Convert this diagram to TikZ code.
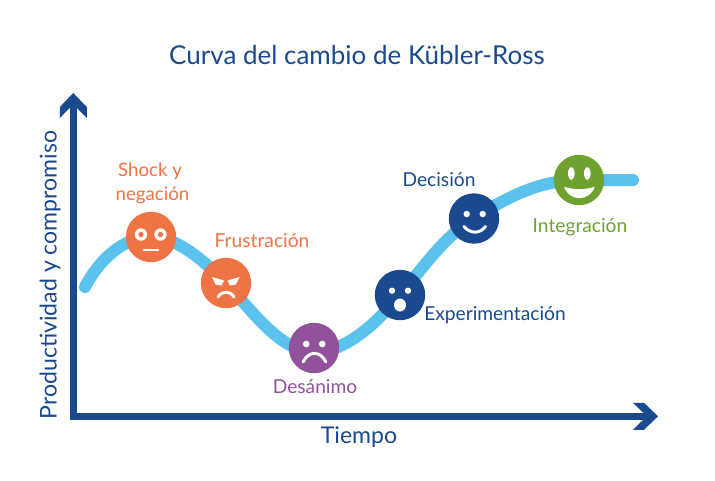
\documentclass[tikz,border=0pt]{standalone}
\usepackage{fontspec}
\setmainfont{Lato}
\usetikzlibrary{arrows.meta,backgrounds}
\definecolor{azul}{HTML}{1A4A8D}
\definecolor{celeste}{HTML}{5BC2EE}
\definecolor{naranja}{HTML}{EE7445}
\definecolor{morado}{HTML}{92529B}
\definecolor{verde}{HTML}{6FA12F}
\pgfdeclarearrow{
  name=Chevron,
  setup code={
    \pgfarrowssettipend{0pt}
    \pgfarrowssetlineend{-10pt}
    \pgfarrowssetbackend{-18.75pt}
    \pgfarrowshullpoint{0pt}{0pt}
    \pgfarrowshullpoint{-18.75pt}{10.1pt}
    \pgfarrowshullpoint{-18.75pt}{-10.1pt}
  },
  drawing code={
    \pgfpathmoveto{\pgfqpoint{0pt}{0pt}}
    \pgfpathlineto{\pgfqpoint{-10.5pt}{10.1pt}}
    \pgfpathlineto{\pgfqpoint{-18.75pt}{10.1pt}}
    \pgfpathlineto{\pgfqpoint{-11.25pt}{2.8pt}}
    \pgfpathlineto{\pgfqpoint{-11.25pt}{-2.8pt}}
    \pgfpathlineto{\pgfqpoint{-18.75pt}{-10.1pt}}
    \pgfpathlineto{\pgfqpoint{-10.5pt}{-10.1pt}}
    \pgfpathclose
    \pgfusepathqfill
  },
}
\tikzset{
  face/.style={circle,fill=#1,minimum size=37.8pt,inner sep=0pt},
  label/.style={text=#1,font=\fontsize{14.4}{17}\selectfont,inner sep=0pt},
  axis/.style={azul,line width=5.6pt,{Chevron}-{Chevron}},
  trazo/.style={white,line width=2.2pt,line cap=round},
}
\begin{document}
\begin{tikzpicture}[x=0.75pt,y=-0.75pt]
    \useasboundingbox (0,0) rectangle (715,480);
    % axes
    \coordinate (ytip) at (73.3,93);
    \coordinate (origin) at (73.3,416.3);
    \coordinate (xtip) at (658,416.3);
    \draw[axis] (ytip) -- (origin) -- (xtip);
    % faces
    \node[face=naranja] (shock) at (151,237) {};
    \node[face=naranja] (frust) at (226,283) {};
    \node[face=morado] (desan) at (314,348) {};
    \node[face=azul] (exper) at (400,295) {};
    \node[face=azul] (decis) at (474,218.5) {};
    \node[face=verde] (integ) at (579,180) {};
    % curve
    \coordinate (inicio) at (85,287);
    \coordinate (valle) at (314,352);
    \coordinate (final) at (633,180);
    \begin{scope}[on background layer]
        \draw[celeste,line width=9pt,line cap=round] (inicio)
            .. controls (100,258) and (125,237) .. (shock.center)
            .. controls (178,237) and (205,262) .. (frust.center)
            .. controls (250,308) and (280,352) .. (valle)
            .. controls (345,352) and (375,325) .. (exper.center)
            .. controls (425,265) and (445,236) .. (decis.center)
            .. controls (505,198) and (540,180) .. (integ.center)
            -- (final);
    \end{scope}
    % shock
    \fill[white] (141,234.5) circle (6.2) (160.5,234.5) circle (6.2);
    \fill[naranja] (141,234.5) circle (2.6) (160.5,234.5) circle (2.6);
    \draw[trazo] (144,250) -- (158,250);
    % frustration
    \fill[white] (212,277) -- (224,280.5) -- (221.5,285.5) -- (215.5,284.5) -- cycle;
    \fill[white] (239.5,277) -- (227.5,280.5) -- (230,285.5) -- (236,284.5) -- cycle;
    \draw[trazo] (218,297) .. controls (222,290.5) and (230,290.5) .. (234,297);
    % sad
    \fill[white] (306.3,344) circle (3.3) (322.3,344) circle (3.3);
    \draw[trazo] (303,362) .. controls (309,350.5) and (320,350.5) .. (326,362);
    % surprised
    \fill[white] (392,290.7) circle (3.2) (408,290.7) circle (3.2);
    \fill[white] (400,305) ellipse (6 and 6.5);
    % smile
    \fill[white] (466.7,214) circle (3.2) (482.7,214) circle (3.2);
    \draw[trazo] (464,226.5) .. controls (470,234) and (480,234) .. (485.5,226.5);
    % happy
    \fill[white] (571.3,173.5) ellipse (3.3 and 6.5) (587.3,173.5) ellipse (3.3 and 6.5);
    \fill[white] (564,186.7) .. controls (574,190) and (585,190) .. (594.7,186.7)
        .. controls (590,202) and (569,202) .. cycle;
    % labels
    \node[text=azul,font=\fontsize{19.5}{23}\selectfont,inner sep=0pt] (titulo) at (357,55.5) {Curva del cambio de Kübler-Ross};
    \node[text=azul,font=\fontsize{17.3}{20}\selectfont,inner sep=0pt] (tiempo) at (359,437) {Tiempo};
    \node[text=azul,font=\fontsize{17.3}{20}\selectfont,inner sep=0pt,rotate=90] (prod) at (50,275) {Productividad y compromiso};
    \node[label=naranja,font=\fontsize{14}{17}\selectfont] (lshock) at (150,171) {Shock y};
    \node[label=naranja,font=\fontsize{14}{17}\selectfont] (lnega) at (152.5,195) {negación};
    \node[label=naranja] (lfrust) at (262,241) {Frustración};
    \node[label=morado] (ldesan) at (315,387) {Desánimo};
    \node[label=azul] (ldecis) at (439,180) {Decisión};
    \node[label=azul] (lexper) at (495,315) {Experimentación};
    \node[label=verde] (linteg) at (580,227) {Integración};
\end{tikzpicture}
\end{document}
